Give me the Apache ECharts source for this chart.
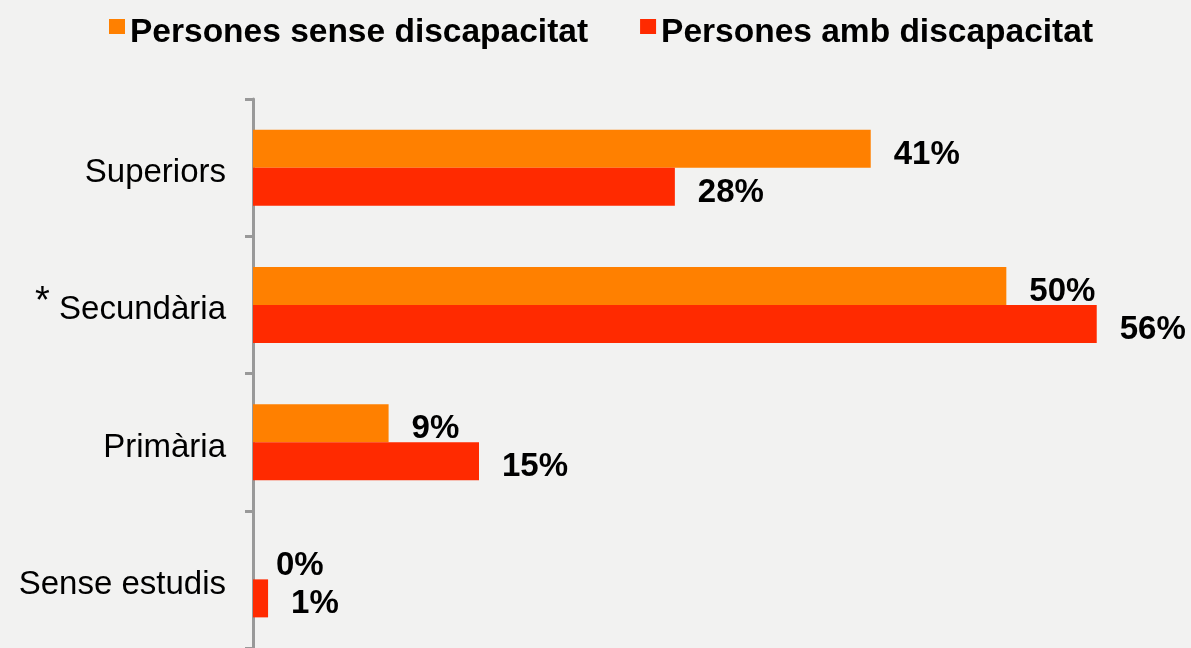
<!DOCTYPE html>
<html>
<head>
<meta charset="utf-8">
<title>Nivell d'estudis</title>
<script src="https://cdn.jsdelivr.net/npm/echarts@6/dist/echarts.min.js"></script>
<style>
  html, body { margin: 0; padding: 0; background: #f2f2f1; }
  #chart { width: 1191px; height: 648px; }
</style>
</head>
<body>
<div id="chart"></div>
<script>
// categories from bottom to top (category axis starts at the bottom)
const categories = ["Sense estudis", "Primària", "Secundària", "Superiors"];
const seriesNames = ["Persones sense discapacitat", "Persones amb discapacitat"];
const senseDiscapacitat = [0, 9, 50, 41];
const ambDiscapacitat = [1, 15, 56, 28];

const font = "'Liberation Sans', Arial, Helvetica, sans-serif";
const colors = ["#ff8000", "#ff2a00"];

const chart = echarts.init(document.getElementById("chart"));

// label for each bar
const barLabel = {
  show: true,
  position: "right",
  distance: 23,
  offset: [0, 6],
  formatter: "{c}%",
  color: "#000",
  fontFamily: font,
  fontWeight: "bold",
  fontSize: 33,
};

// square marker sitting high, next to the legend text (tiny dot stretches the box down)
const legendIcon = "path://M0,0h16v15h-16z M0,27.9h0.1v0.1h-0.1z";

const option = {
  backgroundColor: "#f2f2f1",
  animation: false,
  legend: {
    data: seriesNames,
    top: 16,
    left: 109,
    padding: 0,
    itemGap: 52,
    itemWidth: 16,
    itemHeight: 28,
    icon: legendIcon,
    textStyle: {
      color: "#000",
      fontFamily: font,
      fontWeight: "bold",
      fontSize: 33.5,
    },
  },
  grid: {
    left: 253,
    right: 34,
    top: 99,
    bottom: -3,
  },
  xAxis: {
    type: "value",
    min: 0,
    max: 60,
    show: false,
  },
  yAxis: {
    type: "category",
    data: categories,
    axisLine: { show: true, lineStyle: { color: "#999", width: 3 } },
    axisTick: { show: true, length: 8, lineStyle: { color: "#999", width: 3 } },
    axisLabel: {
      color: "#000",
      fontFamily: font,
      fontSize: 33,
      margin: 27,
      padding: [11, 0, 0, 0],
      formatter: (v) => (v === "Secundària" ? "{s|*}{t| " + v + "}" : v),
      rich: {
        // raised asterisk
        s: { fontSize: 38, fontFamily: font, color: "#000", lineHeight: 20, padding: [0, 0, 16, 0] },
        t: { fontSize: 33, fontFamily: font, color: "#000", lineHeight: 44 },
      },
    },
  },
  series: [
    {
      name: seriesNames[0],
      type: "bar",
      data: senseDiscapacitat,
      barWidth: 38,
      barGap: "0%",
      itemStyle: { color: colors[0] },
      label: barLabel,
    },
    {
      name: seriesNames[1],
      type: "bar",
      data: ambDiscapacitat,
      barWidth: 38,
      barGap: "0%",
      itemStyle: { color: colors[1] },
      label: barLabel,
    },
  ],
};

chart.setOption(option);
</script>
</body>
</html>
